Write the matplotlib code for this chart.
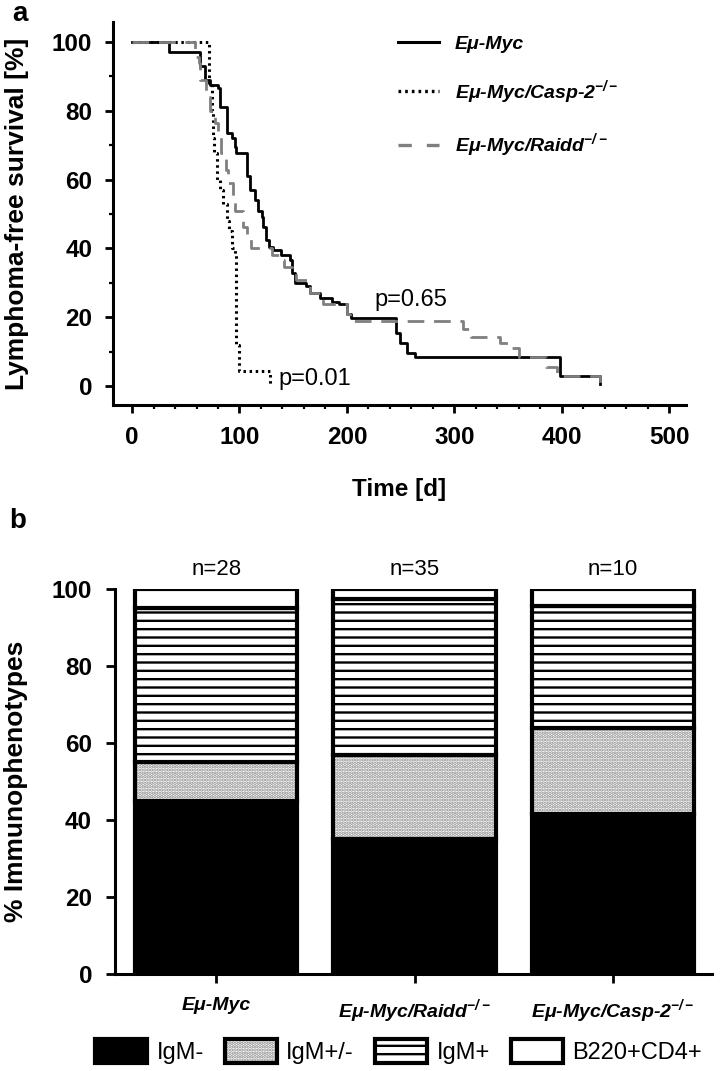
import matplotlib
matplotlib.use("Agg")
import matplotlib.pyplot as plt
from matplotlib.ticker import MultipleLocator
from matplotlib.lines import Line2D
from matplotlib.patches import Patch

plt.rcParams['font.family'] = 'Liberation Sans'
plt.rcParams['mathtext.fontset'] = 'custom'
plt.rcParams['mathtext.rm'] = 'Liberation Sans:bold:italic'
plt.rcParams['mathtext.it'] = 'Liberation Sans:bold:italic'
plt.rcParams['mathtext.bf'] = 'Liberation Sans:bold:italic'
plt.rcParams['hatch.linewidth'] = 1.7

# --- panel a: Kaplan-Meier curves (days, % lymphoma-free) ---
myc_t = [0, 34, 63, 68, 73, 80, 82, 88, 93, 96, 97, 107, 110, 114, 117, 121, 122, 125, 127, 131,
         139, 147, 149, 152, 162, 166, 175, 186, 193, 200, 204, 246, 249, 256, 263, 398, 435]
myc_s = [100, 97, 93, 89, 87.5, 86.5, 81, 73.5, 72, 69.5, 67.8, 61, 57, 54, 51, 49, 46.3, 42.5, 40.5, 39.5,
         38, 36.6, 32.8, 30, 29, 27, 25.6, 24.5, 24, 21, 19.7, 15.4, 12.5, 9.6, 8.5, 2.9, 0.5]

casp_t = [0, 72, 74, 75, 76, 79, 82, 85, 88, 90, 93, 96, 97, 100, 128]
casp_s = [100, 88, 80, 72, 67.7, 60, 57, 53, 48, 45, 40, 38.5, 12, 4.5, 0]

raidd_t = [0, 59, 62, 63, 69, 73, 77, 80, 83, 87, 89, 94, 96, 103, 107, 111, 130, 138, 141, 149,
           153, 166, 178, 200, 203, 308, 315, 342, 350, 360, 385, 395, 435]
raidd_s = [100, 95.7, 93.8, 89, 84, 80, 76.4, 72.5, 67.7, 62.8, 59, 54, 51, 46.3, 43.4, 40, 38, 36.6, 34.7, 32.8,
           30.8, 27, 24, 21, 19, 16.7, 14.3, 12.5, 11, 8.5, 5.7, 2.9, 0.5]

# --- panel b: immunophenotypes (%) ---
genotypes = ['E\u03bc-Myc', 'E\u03bc-Myc/Raidd$^{-/-}$', 'E\u03bc-Myc/Casp-2$^{-/-}$']
n_labels = ['n=28', 'n=35', 'n=10']
igm_neg = [45, 35, 41.5]
igm_int = [10, 22, 22.5]
igm_pos = [40, 40.5, 31.5]
b220_cd4 = [5, 2.5, 4.5]

fig = plt.figure(figsize=(7.22, 10.71), dpi=100)

# ================= panel a =================
ax1 = fig.add_axes([0.1565, 0.6218, 0.7930, 0.3577])
ax1.step(myc_t, myc_s, where='post', color='black', lw=2.0)
ax1.step(casp_t, casp_s, where='post', color='black', lw=2.2, linestyle=(0, (0.8, 1.2)))
ax1.step(raidd_t, raidd_s, where='post', color='#7f7f7f', lw=2.0, linestyle=(0, (6, 3.5)))

ax1.set_xlim(-17.7, 515)
ax1.set_ylim(-5.5, 105.8)
ax1.set_xticks([0, 100, 200, 300, 400, 500])
ax1.xaxis.set_minor_locator(MultipleLocator(20))
ax1.set_yticks([0, 20, 40, 60, 80, 100])
ax1.yaxis.set_minor_locator(MultipleLocator(10))
for s in ['top', 'right']:
    ax1.spines[s].set_visible(False)
for s in ['left', 'bottom']:
    ax1.spines[s].set_linewidth(2.2)
ax1.tick_params(which='major', direction='out', length=6, width=2, labelsize=17.5, pad=9)
ax1.tick_params(which='minor', direction='out', length=3, width=1.6)
for lab in ax1.get_xticklabels() + ax1.get_yticklabels():
    lab.set_fontweight('bold')

ax1.set_ylabel('Lymphoma-free survival [%]', fontsize=19, fontweight='bold')
ax1.yaxis.set_label_coords(-0.146, 0.5)
ax1.set_xlabel('Time [d]', fontsize=17.5, fontweight='bold')
ax1.xaxis.set_label_coords(0.5, -0.19)

ax1.text(226, 25, 'p=0.65', fontsize=17, ha='left', va='center')
ax1.text(136, 2, 'p=0.01', fontsize=17, ha='left', va='center')

handles_a = [Line2D([], [], color='black', lw=2.2),
             Line2D([], [], color='black', lw=2.4, linestyle=(0, (0.8, 1.2))),
             Line2D([], [], color='#7f7f7f', lw=2.4, linestyle=(0, (4, 4.5)))]
labels_a = ['E\u03bc-Myc', 'E\u03bc-Myc/Casp-2$^{-/-}$', 'E\u03bc-Myc/Raidd$^{-/-}$']
leg = ax1.legend(handles_a, labels_a, loc='upper left', bbox_to_anchor=(0.498, 0.965),
                 frameon=False, borderpad=0, borderaxespad=0, handlelength=2.1,
                 handletextpad=0.8, labelspacing=1.3,
                 prop={'size': 14, 'weight': 'bold', 'style': 'italic'})

fig.text(0.028, 0.987, 'a', fontsize=20, fontweight='bold', ha='center', va='center')

# ================= panel b =================
ax2 = fig.add_axes([0.1593, 0.0906, 0.8269, 0.3595])
x = [0, 1, 2]
w = 0.82
bottoms = [0, 0, 0]
segments = [
    (igm_neg, dict(color='black')),
    (igm_int, dict(facecolor='white', edgecolor='#8a8a8a', hatch='.....', linewidth=0)),
    (igm_pos, dict(facecolor='white', edgecolor='black', hatch='--', linewidth=0)),
    (b220_cd4, dict(facecolor='white', linewidth=0)),
]
for vals, style in segments:
    ax2.bar(x, vals, width=w, bottom=bottoms, **style)
    ax2.bar(x, vals, width=w, bottom=bottoms, fill=False, edgecolor='black', linewidth=3)
    bottoms = [b + v for b, v in zip(bottoms, vals)]

for xi, n in zip(x, n_labels):
    ax2.text(xi, 105, n, ha='center', va='center', fontsize=16, clip_on=False)

ax2.set_xlim(-0.51, 2.5)
ax2.set_ylim(0, 100)
ax2.set_yticks([0, 20, 40, 60, 80, 100])
ax2.set_xticks(x)
ax2.set_xticklabels(genotypes, fontsize=14, fontweight='bold', style='italic')
for s in ['top', 'right']:
    ax2.spines[s].set_visible(False)
for s in ['left', 'bottom']:
    ax2.spines[s].set_linewidth(2.2)
ax2.tick_params(direction='out', length=6.5, width=2, labelsize=17.5, pad=10)
ax2.tick_params(axis='x', labelsize=14, pad=10)
for lab in ax2.get_yticklabels():
    lab.set_fontweight('bold')
ax2.set_ylabel('% Immunophenotypes', fontsize=19, fontweight='bold')
ax2.yaxis.set_label_coords(-0.146, 0.5)

handles_b = [
    (Patch(facecolor='black', edgecolor='black', lw=3),),
    (Patch(facecolor='white', edgecolor='#8a8a8a', hatch='.....', lw=0),
     Patch(fill=False, edgecolor='black', lw=3)),
    (Patch(facecolor='white', edgecolor='black', hatch='--', lw=0),
     Patch(fill=False, edgecolor='black', lw=3)),
    (Patch(facecolor='white', edgecolor='black', lw=3),),
]
fig.legend(handles_b, ['IgM-', 'IgM+/-', 'IgM+', 'B220+CD4+'], loc='center',
           bbox_to_anchor=(0.552, 0.018), ncol=4, frameon=False, fontsize=17,
           handlelength=2.2, handleheight=1.15, columnspacing=0.9, handletextpad=0.4)

fig.text(0.025, 0.514, 'b', fontsize=20, fontweight='bold', ha='center', va='center')

fig.savefig('out.png', dpi=100)
